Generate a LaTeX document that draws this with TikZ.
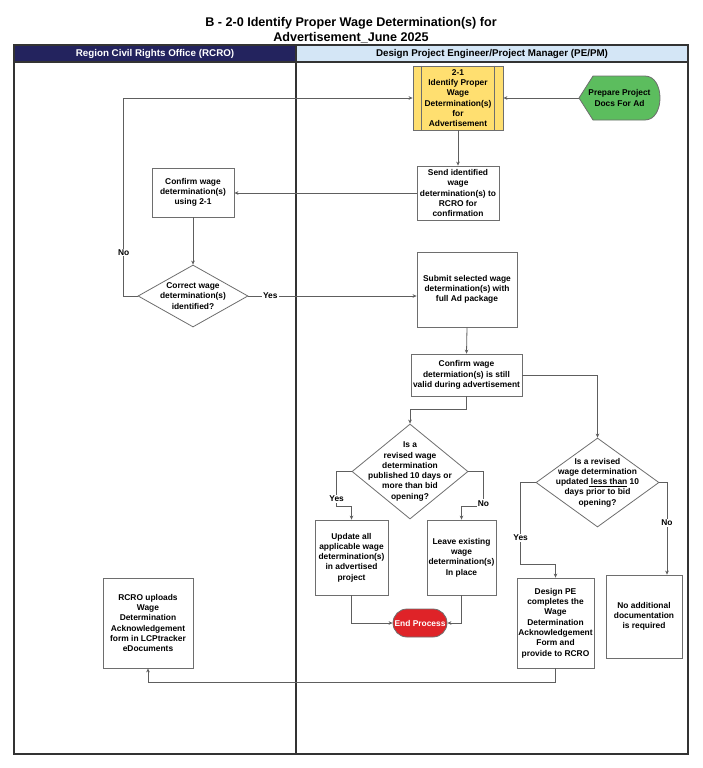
\documentclass[tikz,border=0pt]{standalone}
\usepackage{fontspec}
\setmainfont{Liberation Sans}
\usepackage{tikz}
\usetikzlibrary{shapes.geometric,arrows.meta}
\definecolor{navy}{HTML}{23235E}
\definecolor{paleblue}{HTML}{D4E6F6}
\definecolor{procyellow}{HTML}{FFDF70}
\definecolor{startgreen}{HTML}{5CBD5E}
\definecolor{endred}{HTML}{DF2328}
\definecolor{linegray}{HTML}{5E5E5E}
\definecolor{boxgray}{HTML}{6E6E6E}

\begin{document}
\begin{tikzpicture}[x=1pt, y=-1pt, >={Stealth[length=4pt,width=3.6pt]},
  txt/.style={font=\bfseries\fontsize{8.4}{10.3}\selectfont, align=center},
  bnode/.style={txt, draw=boxgray, line width=0.8pt, fill=white, inner sep=0pt},
  dnode/.style={draw=boxgray, line width=0.8pt, fill=white, diamond, inner sep=0pt},
  lnode/.style={txt, text=black, fill=white, inner sep=1pt},
  hnode/.style={font=\bfseries\fontsize{9.8}{12}\selectfont}]
    \useasboundingbox (0,0) rectangle (703,768);
    \node[font=\bfseries\fontsize{12.6}{15}\selectfont, align=center] (title) at (351,30.5) {B - 2-0 Identify Proper Wage Determination(s) for\\Advertisement\_June 2025};

    \fill[navy] (14,45) rectangle (296,62);
    \fill[paleblue] (296,45) rectangle (688,62);
    \draw[line width=1.2pt, black!80] (14,45) rectangle (688,754);
    \draw[line width=1.2pt, black!80] (14,62) -- (688,62);
    \draw[line width=1.2pt, black!80] (296,45) -- (296,754);
    \node[hnode, text=white] (rcro) at (155,53.5) {Region Civil Rights Office (RCRO)};
    \node[hnode] (pepm) at (492,53.5) {Design Project Engineer/Project Manager (PE/PM)};

    \node[bnode, fill=procyellow, minimum width=90pt, minimum height=64pt] (wd) at (458,98) {2-1\\Identify Proper\\Wage\\Determination(s)\\for\\Advertisement};
    \draw[boxgray, line width=0.8pt] ([xshift=9pt]wd.north west) -- ([xshift=9pt]wd.south west);
    \draw[boxgray, line width=0.8pt] ([xshift=-9pt]wd.north east) -- ([xshift=-9pt]wd.south east);
    \draw[boxgray, line width=0.8pt, fill=startgreen] (579,98) -- (593,76) -- (645,76) .. controls (665,76) and (665,120) .. (645,120) -- (593,120) -- cycle;
    \node[txt, minimum width=81pt, minimum height=44pt, inner sep=0pt] (prep) at (619.5,98) {Prepare Project\\Docs For Ad};
    \node[bnode, minimum width=82pt, minimum height=54pt] (send) at (458,193) {Send identified\\wage\\determination(s) to\\RCRO for\\confirmation};
    \node[bnode, minimum width=82pt, minimum height=49pt] (conf) at (193,192.5) {Confirm wage\\determination(s)\\using 2-1};
    \node[dnode, minimum width=110pt, minimum height=62pt, label={[txt]center:{Correct wage\\determination(s)\\identified?}}] (corr) at (193,296) {};
    \node[bnode, minimum width=100pt, minimum height=75pt] (subm) at (467,289.5) {Submit selected wage\\determination(s) with\\full Ad package};
    \node[bnode, minimum width=111pt, minimum height=42pt] (valid) at (466.5,375) {Confirm wage\\determiation(s) is still\\valid during advertisement};
    \node[dnode, minimum width=116pt, minimum height=95pt, label={[txt]center:{Is a\\revised wage\\determination\\published 10 days or\\more than bid\\opening?}}] (revl) at (410,471.5) {};
    \node[dnode, minimum width=123pt, minimum height=89pt, label={[txt]center:{Is a revised\\wage determination\\updated\underline{ less than} 10\\days prior to bid\\opening?}}] (revr) at (597.5,482.5) {};
    \node[bnode, minimum width=73pt, minimum height=75pt] (upd) at (351.5,557.5) {Update all\\applicable wage\\determination(s)\\in advertised\\project};
    \node[bnode, minimum width=69pt, minimum height=75pt] (leave) at (461.5,557.5) {Leave existing\\wage\\determination(s)\\In place};
    \node[txt, fill=endred, draw=boxgray, line width=0.8pt, text=white, rounded corners=14pt, minimum width=54pt, minimum height=28pt, inner sep=0pt] (endp) at (420,623) {End Process};
    \node[bnode, minimum width=77pt, minimum height=90pt] (dpe) at (555.5,623) {Design PE\\completes the\\Wage\\Determination\\Acknowledgement\\Form and\\provide to RCRO};
    \node[bnode, minimum width=76pt, minimum height=83pt] (noadd) at (644,616.5) {No additional\\documentation\\is required};
    \node[bnode, minimum width=90pt, minimum height=90pt] (upl) at (148,623) {RCRO uploads\\Wage\\Determination\\Acknowledgement\\form in LCPtracker\\eDocuments};

   \begin{scope}[->, linegray, line width=0.8pt]
    \draw (prep.west) -- (wd.east);
    \draw (wd.south) -- (send.north);
    \draw (send.west) -- (send.west -| conf.east);
    \draw (conf.south) -- (corr.north);
    \draw (corr.west) -- ++(-14,0) |- node[lnode, pos=0.11] (no1) {No} (wd.west);
    \draw (corr.east) -- node[lnode, pos=0.13] (yes1) {Yes} (corr.east -| subm.west);
    \draw (subm.south) -- (valid.north);
    \draw (valid.south) -- ++(0,13) -| (revl.north);
    \draw (valid.east) -| (revr.north);
    \draw (revl.west) -| node[lnode, pos=0.9] (yes2) {Yes} ++(-15,34.5) -| (upd.north);
    \draw (revl.east) -| node[lnode, pos=0.96] (no2) {No} ++(15,34.5) -| (leave.north);
    \draw (revr.west) -| node[lnode, pos=0.84] (yes3) {Yes} ++(-15,81.5) -| (dpe.north);
    \draw (revr.east) -| node[lnode, pos=0.72] (no3) {No} ([xshift=23pt]noadd.north);
    \draw (upd.south) |- (endp.west);
    \draw (leave.south) |- (endp.east);
    \draw (dpe.south) -- ++(0,14) -| (upl.south);
   \end{scope}
\end{tikzpicture}
\end{document}
